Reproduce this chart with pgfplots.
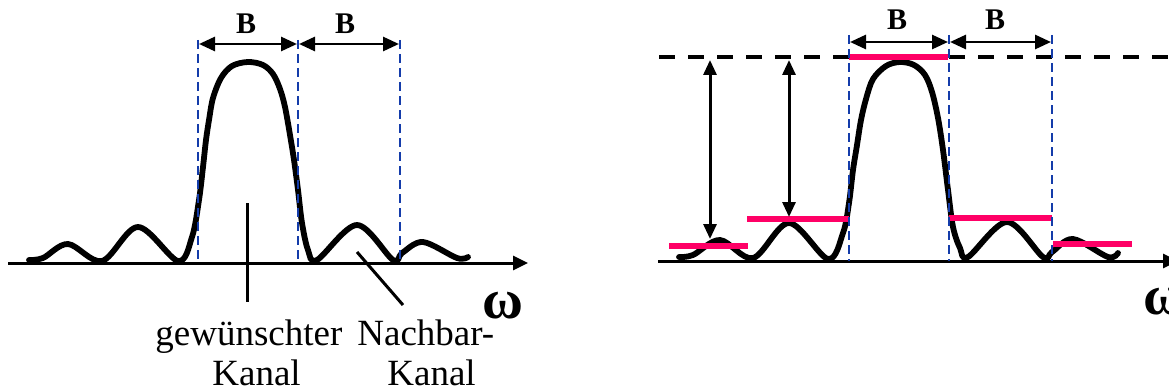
\documentclass[border=0pt]{standalone}
\usepackage{fontspec}
\setmainfont{Liberation Serif}
\usepackage{pgfplots}
\pgfplotsset{compat=1.18}
\usetikzlibrary{arrows.meta}
\definecolor{chanblue}{RGB}{20,60,170}
\definecolor{levelpink}{RGB}{255,0,102}

% spectrum of the wanted channel (left panel)
\pgfplotstableread{
x y
29 260
43 258
68 244
102 261
138 227
178 261
192 237
199 200
203 167
206 140
209 120
213 98
221 78
232 66
248 62
263 65
273 74
280 89
285 107
290 135
294 160
298 190
302 223
308 250
317 260
357 225
393 260
402 253
423 242
457 258
468 257
}\spectrumA

% the same spectrum with its side-lobe levels (right panel)
\pgfplotstableread{
x y
679 257
693 255
720 240
753 258
789 223
828 259
843 233
849 203
853 170
857 145
861 120
866 99
873 79
886 66
900 62
914 65
925 75
932 92
938 118
943 150
948 190
953 227
960 248
968 257
1007 222
1043 257
1052 252
1073 239
1108 257
1118 253
}\spectrumB

\begin{document}
\begin{tikzpicture}
\begin{axis}[name=ax, scale only axis, width=584.5pt, height=195pt,
  xmin=0, xmax=1169, ymin=0, ymax=390, y dir=reverse,
  axis lines=none, clip=false]

\tikzset{
  freqaxis/.style={line width=1.5pt, -{Triangle[length=7.5pt,width=7pt]}},
  bw/.style={line width=1.4pt, {Triangle[length=8pt,width=7pt]}-{Triangle[length=8pt,width=7pt]}},
  gap/.style={line width=1.5pt, {Triangle[length=7.5pt,width=6.5pt]}-{Triangle[length=7.5pt,width=6.5pt]}},
  chan/.style={chanblue, line width=1.3pt, dash pattern=on 4.5pt off 2.5pt},
  lbl/.style={inner sep=0pt, font=\fontsize{18.5}{21}\selectfont},
  bee/.style={inner sep=0pt, font=\fontsize{15}{18}\selectfont\bfseries},
  om/.style={inner sep=0pt, font=\fontsize{28}{30}\selectfont\bfseries},
}

% ---------- left panel ----------
\draw[freqaxis] (axis cs:8,263) -- (axis cs:528,263);
\addplot[black, line width=2.9pt, smooth, tension=0.55, line cap=round, line join=round]
  table[x=x, y=y] {\spectrumA};
\pgfplotsinvokeforeach{198,298,400}{
  \draw[chan] (axis cs:#1,40) -- (axis cs:#1,263);
}
\draw[bw] (axis cs:199,44) -- (axis cs:297,44);
\draw[bw] (axis cs:299,44) -- (axis cs:399,44);
\node[bee] at (axis cs:246,24) {B};
\node[bee] at (axis cs:345,24) {B};
\draw[line width=1.5pt] (axis cs:247,203) -- (axis cs:247,302);
\draw[line width=1.5pt] (axis cs:357,252) -- (axis cs:403,305);
\node[lbl, anchor=base west] at (axis cs:155,345) {gewünschter};
\node[lbl, anchor=base west] at (axis cs:357,345) {Nachbar-};
\node[lbl, text depth=0pt, anchor=base west] at (axis cs:212,385) {Kanal};
\node[lbl, text depth=0pt, anchor=base west] at (axis cs:387,385) {Kanal};
\node[om] at (axis cs:503,306) {ω};

% ---------- right panel ----------
\draw[freqaxis] (axis cs:658,261) -- (axis cs:1178,261);
\draw[line width=2pt, dash pattern=on 8pt off 6.5pt] (axis cs:659,57) -- (axis cs:1169,57);
\addplot[black, line width=2.9pt, smooth, tension=0.55, line cap=round, line join=round]
  table[x=x, y=y] {\spectrumB};
% side-lobe levels
\addplot[levelpink, line width=3pt] coordinates {(669,246) (748,246)};
\addplot[levelpink, line width=3pt] coordinates {(747,219) (849,219)};
\addplot[levelpink, line width=3pt] coordinates {(849,57) (948,57)};
\addplot[levelpink, line width=3pt] coordinates {(949,218) (1052,218)};
\addplot[levelpink, line width=3pt] coordinates {(1053,244) (1132,244)};
\pgfplotsinvokeforeach{849,949,1052}{
  \draw[chan] (axis cs:#1,35) -- (axis cs:#1,261);
}
\draw[bw] (axis cs:850,42) -- (axis cs:948,42);
\draw[bw] (axis cs:950,42) -- (axis cs:1051,42);
\node[bee] at (axis cs:897,20) {B};
\node[bee] at (axis cs:995,20) {B};
\draw[gap] (axis cs:710,60) -- (axis cs:710,239);
\draw[gap] (axis cs:789,60) -- (axis cs:789,217);
\node[om, anchor=west] at (axis cs:1143,302) {ω};
\end{axis}
\pgfresetboundingbox
\path[use as bounding box] (ax.south west) rectangle (ax.north east);
\end{tikzpicture}
\end{document}
